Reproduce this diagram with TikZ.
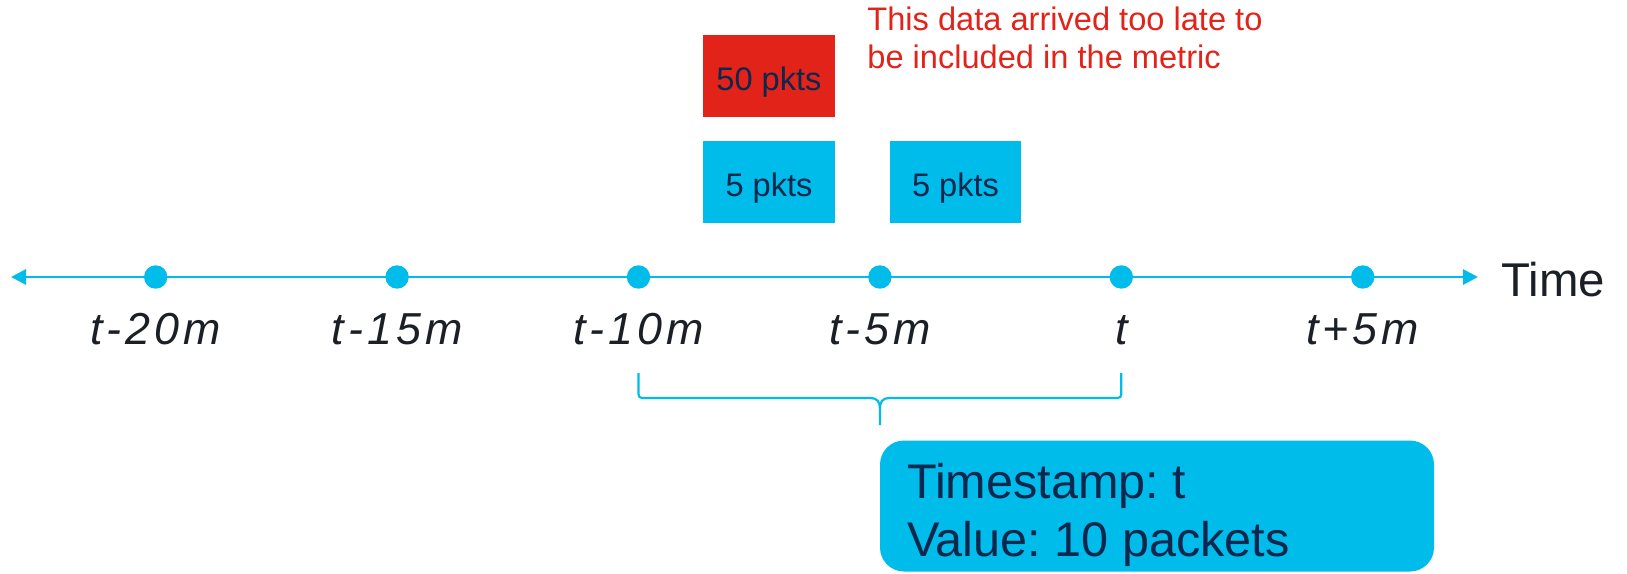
\documentclass[tikz,border=0pt]{standalone}
\usepackage{fontspec}
\setmainfont{Liberation Sans}
\frenchspacing
\usetikzlibrary{arrows.meta,calc}
\definecolor{ciscoblue}{HTML}{00BCEB}
\definecolor{alertred}{HTML}{E2231A}
\definecolor{navytext}{HTML}{0D274D}
\definecolor{inktext}{HTML}{1B1F26}
\tikzset{
  axisline/.style={draw=ciscoblue, line width=1.4pt,
    arrows={Triangle[length=7.5pt,width=7.5pt]-Triangle[length=7.5pt,width=7.5pt]}},
  tick/.style={circle, fill=ciscoblue, inner sep=0pt, minimum size=11.7pt},
  ticklabel/.style={anchor=base, inner sep=0pt, text=inktext,
    font=\fontsize{22.4}{26}\selectfont\itshape\addfontfeature{LetterSpace=9}},
  pktbox/.style={minimum width=65.8pt, minimum height=40.8pt, inner sep=0pt,
    text height=14pt, text depth=0pt,
    text=navytext, font=\fontsize{16.3}{19}\selectfont},
  note/.style={anchor=base west, inner sep=0pt, text=alertred,
    font=\fontsize{16.3}{19}\selectfont},
  bracket/.style={draw=ciscoblue, line width=1.1pt},
  summary/.style={fill=ciscoblue, rounded corners=12pt, minimum width=277pt,
    minimum height=65.5pt, inner sep=0pt},
  summarytext/.style={anchor=base west, inner sep=0pt, text=navytext,
    font=\fontsize{24.3}{28}\selectfont}
}
\begin{document}
\begin{tikzpicture}[x=0.5pt,y=-0.5pt]
\useasboundingbox (0,0) rectangle (1627,573);

% time axis
\coordinate (lend) at (11,277);
\coordinate (rend) at (1478,277);
\draw[axisline] (lend) -- (rend);
\node[anchor=base west, inner sep=0pt, text=inktext, font=\fontsize{23.7}{28}\selectfont] (time) at (1501,296) {Time};

% ticks and their labels
\foreach \name/\x/\lab in {m20/155.7/t-20m, m15/397.1/t-15m, m10/638.5/t-10m,
                          m5/879.9/t-5m, now/1121.3/t, p5/1362.7/t+5m}{
  \node[tick] (d\name) at (\x,277) {};
  \node[ticklabel] (l\name) at (\x,344) {\lab};
}

% packet batches
\node[pktbox, fill=alertred]  (late)  at (769,76)    {50 pkts};
\node[pktbox, fill=ciscoblue] (pkA)   at (769,182)   {5 pkts};
\node[pktbox, fill=ciscoblue] (pkB)   at (955.5,182) {5 pkts};

\node[note] (noteA) at (867,30) {This data arrived too late to};
\node[note] (noteB) at (867,68) {be included in the metric};

% bracket over the aggregation window
\coordinate (bl) at (dm10 |- 0,373);
\coordinate (br) at (dnow |- 0,373);
\coordinate (bm) at (dm5 |- 0,398);
\draw[bracket]
  (bl) -- ++(0,17) .. controls +(0,8) and +(-8,0) .. ++(8,8)
  -- ($(bm)+(-9,0)$) .. controls +(6,0) and +(0,-6) .. ++(9,10) -- ++(0,17);
\draw[bracket]
  (br) -- ++(0,17) .. controls +(0,8) and +(8,0) .. ++(-8,8)
  -- ($(bm)+(9,0)$) .. controls +(-6,0) and +(0,-6) .. ++(-9,10);

% resulting metric
\node[summary] (metric) at (1157,506) {};
\node[summarytext] (mts) at (906.7,498) {Timestamp: t};
\node[summarytext] (mval) at (906.7,556) {Value: 10 packets};
\end{tikzpicture}
\end{document}
